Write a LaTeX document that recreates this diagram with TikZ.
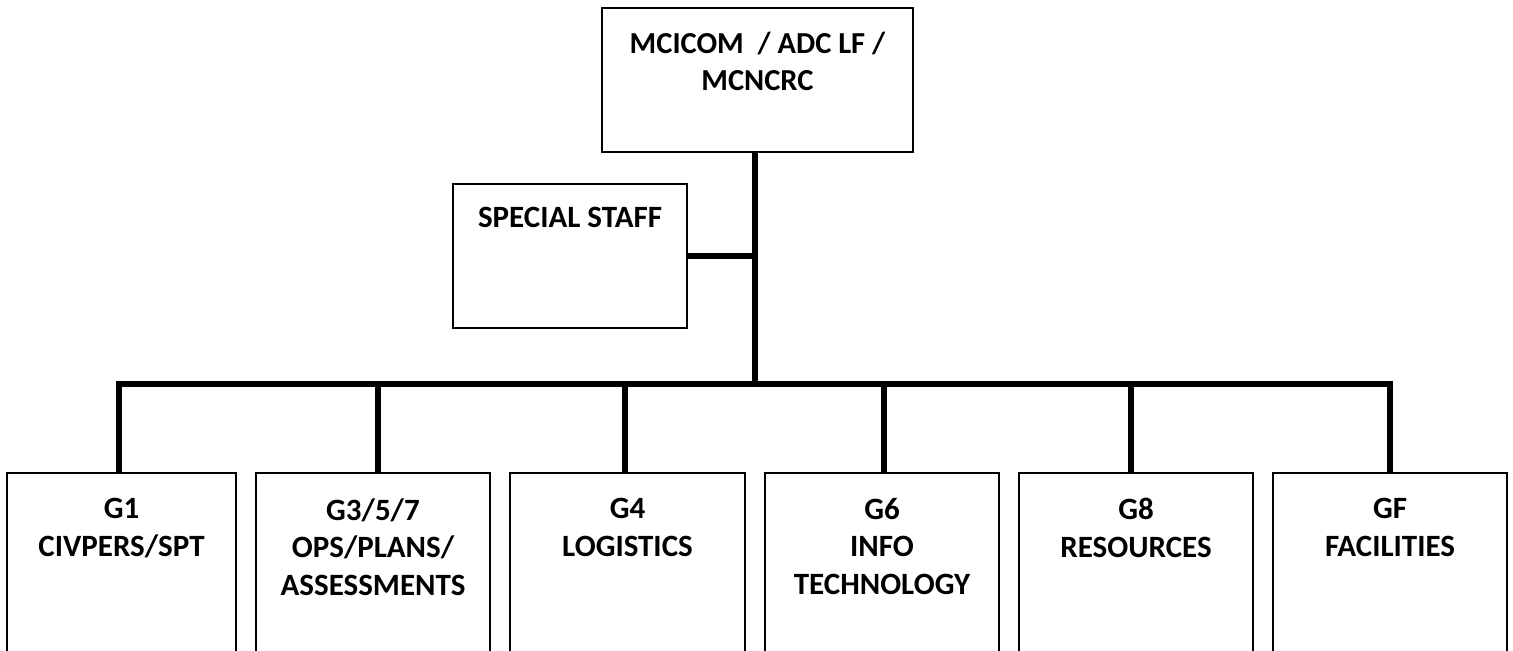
\documentclass[tikz,border=0pt]{standalone}
\usepackage{fontspec}
\setmainfont{Carlito}
\newdimen\pxu \pxu=0.75pt
\begin{document}
\begin{tikzpicture}[x=0.75pt,y=-0.75pt,
  box/.style={draw=black,line width=2\pxu,rectangle,inner sep=0pt,outer sep=0pt,fill=white},
  lbl/.style={anchor=north,inner sep=0pt,align=center,font=\fontsize{31\pxu}{37.5\pxu}\selectfont\bfseries},
  conn/.style={line width=5.4\pxu,draw=black,line join=miter}]
\useasboundingbox (0,0) rectangle (1513,650);
\clip (0,0) rectangle (1513,650);
% boxes
\node[box,minimum width=311\pxu,minimum height=144\pxu] (top) at (757.5,80) {};
\node[box,minimum width=234\pxu,minimum height=144\pxu] (spec) at (570,256) {};
\node[box,minimum width=229\pxu,minimum height=200\pxu] (g1) at (121.5,573) {};
\node[box,minimum width=234\pxu,minimum height=200\pxu] (g3) at (373,573) {};
\node[box,minimum width=235\pxu,minimum height=200\pxu] (g4) at (627.5,573) {};
\node[box,minimum width=234\pxu,minimum height=200\pxu] (g6) at (882,573) {};
\node[box,minimum width=234\pxu,minimum height=200\pxu] (g8) at (1136,573) {};
\node[box,minimum width=234\pxu,minimum height=200\pxu] (gf) at (1390,573) {};
% labels
\node[lbl,font=\fontsize{30.5\pxu}{37\pxu}\selectfont\bfseries] (ttop) at ([yshift=-24\pxu]top.north) {MCICOM~~/ ADC LF /\\MCNCRC};
\node[lbl] (tspec) at ([yshift=-23\pxu]spec.north) {SPECIAL STAFF};
\node[lbl] (tg1) at ([yshift=-25\pxu]g1.north) {G1\\CIVPERS/SPT};
\node[lbl] (tg3) at ([yshift=-25\pxu]g3.north) {G3/5/7\\OPS/PLANS/\\ASSESSMENTS};
\node[lbl] (tg4) at ([yshift=-25\pxu]g4.north) {G4\\LOGISTICS};
\node[lbl] (tg6) at ([yshift=-25\pxu]g6.north) {G6\\INFO\\TECHNOLOGY};
\node[lbl] (tg8) at ([yshift=-25\pxu]g8.north) {G8\\RESOURCES};
\node[lbl] (tgf) at ([yshift=-25\pxu]gf.north) {GF\\FACILITIES};
% junctions
\coordinate (bj) at (755,384);
\coordinate (sj) at (755,256);
\coordinate (s1) at (119,384);
\coordinate (s3) at (378,384);
\coordinate (s4) at (625,384);
\coordinate (s6) at (884,384);
\coordinate (s8) at (1131,384);
\coordinate (sf) at (1390,384);
% connectors
\draw[conn] (top.south -| bj) -- (bj);
\draw[conn] (spec.east) -- (sj);
\draw[conn] (s1 |- g1.north) -- (s1) -- (sf) -- (sf |- gf.north);
\draw[conn] (s3) -- (s3 |- g3.north);
\draw[conn] (s4) -- (s4 |- g4.north);
\draw[conn] (s6) -- (s6 |- g6.north);
\draw[conn] (s8) -- (s8 |- g8.north);
\end{tikzpicture}
\end{document}
